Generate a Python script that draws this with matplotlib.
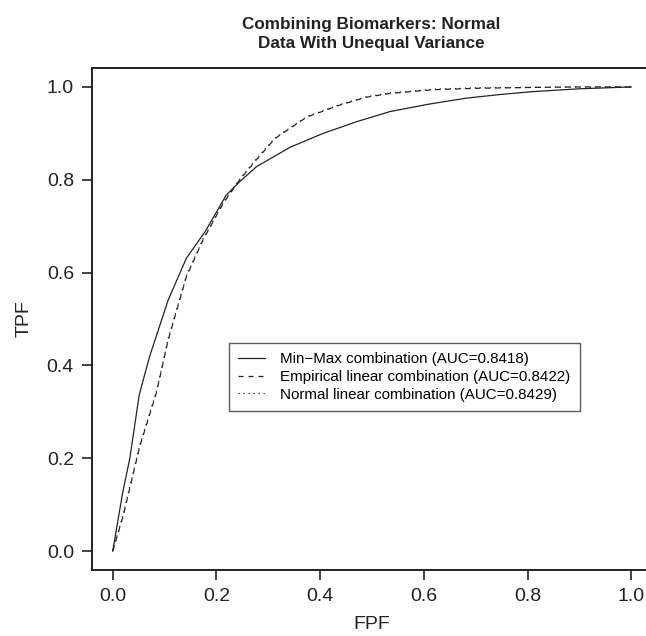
import matplotlib
matplotlib.use("Agg")
import matplotlib.pyplot as plt

plt.rcParams['font.family'] = ['Liberation Sans', 'DejaVu Sans']

# ROC curves
minmax_fpf = [0.0, 0.019, 0.033, 0.051, 0.071, 0.107, 0.142, 0.178, 0.219, 0.245,
              0.277, 0.342, 0.406, 0.470, 0.535, 0.610, 0.683, 0.750, 0.811, 0.900, 1.0]
minmax_tpf = [0.0, 0.125, 0.200, 0.336, 0.419, 0.541, 0.631, 0.688, 0.767, 0.796,
              0.828, 0.870, 0.900, 0.925, 0.947, 0.963, 0.976, 0.984, 0.990, 0.996, 1.0]

emp_fpf = [0.0, 0.020, 0.052, 0.084, 0.107, 0.142, 0.174, 0.213, 0.245, 0.277,
           0.313, 0.374, 0.438, 0.490, 0.535, 0.618, 0.700, 0.811, 0.900, 1.0]
emp_tpf = [0.0, 0.075, 0.225, 0.340, 0.455, 0.591, 0.670, 0.749, 0.800, 0.843,
           0.889, 0.935, 0.961, 0.978, 0.986, 0.994, 0.997, 0.999, 1.0, 1.0]

norm_fpf = [0.0, 0.020, 0.052, 0.084, 0.107, 0.142, 0.174, 0.213, 0.245, 0.277,
            0.313, 0.374, 0.438, 0.490, 0.535, 0.618, 0.700, 0.811, 0.900, 1.0]
norm_tpf = [0.0, 0.078, 0.228, 0.343, 0.458, 0.593, 0.672, 0.751, 0.801, 0.845,
            0.890, 0.936, 0.962, 0.979, 0.987, 0.995, 0.998, 0.999, 1.0, 1.0]

labels = ["Min\u2212Max combination (AUC=0.8418)",
          "Empirical linear combination (AUC=0.8422)",
          "Normal linear combination (AUC=0.8429)"]
ticks = [0.0, 0.2, 0.4, 0.6, 0.8, 1.0]

fig = plt.figure(figsize=(6.46, 6.36), dpi=100)
ax = fig.add_axes([0.1424, 0.1044, 0.8669, 0.7881])

ax.plot(minmax_fpf, minmax_tpf, color='#222222', lw=0.9, ls='-', label=labels[0])
ax.plot(emp_fpf, emp_tpf, color='#222222', lw=0.9, ls=(0, (4, 4)), label=labels[1])
ax.plot(norm_fpf, norm_tpf, color='#222222', lw=0.9, ls=(0, (1, 3)), label=labels[2])

ax.set_xlim(-0.04, 1.04)
ax.set_ylim(-0.04, 1.04)
ax.set_xticks(ticks)
ax.set_yticks(ticks)
ax.set_xticklabels(["%.1f" % t for t in ticks])
ax.set_yticklabels(["%.1f" % t for t in ticks])
ax.tick_params(direction='out', length=7, width=1.2, labelsize=14, pad=6, colors='#222222')
for s in ax.spines.values():
    s.set_linewidth(1.4)
    s.set_color('#222222')

ax.set_xlabel("FPF", fontsize=14, labelpad=8, color='#222222')
ax.set_ylabel("TPF", fontsize=14, labelpad=10, color='#222222')

fig.text(0.575, 0.947, "Combining Biomarkers: Normal\nData With Unequal Variance",
         ha='center', va='center', fontsize=12.3, fontweight='bold', linespacing=1.35,
         color='#222222')

leg = ax.legend(loc='upper left', bbox_to_anchor=(0.2446, 0.452), borderaxespad=0,
                fontsize=10.9, frameon=True, fancybox=False, handlelength=1.8,
                handletextpad=1.0, borderpad=0.6, labelspacing=0.25, edgecolor='#333333')
leg.get_frame().set_linewidth(1.0)

fig.savefig("out.png", dpi=100)
